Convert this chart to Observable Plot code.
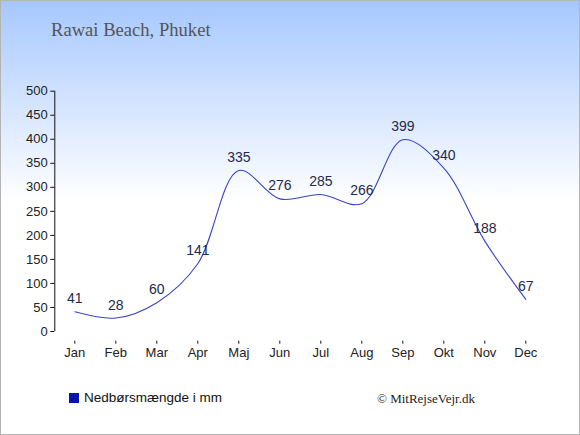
<!DOCTYPE html>
<html>
<head>
<meta charset="utf-8">
<script src="https://cdn.jsdelivr.net/npm/d3@7"></script>
<script src="https://cdn.jsdelivr.net/npm/@observablehq/plot@0.6"></script>
<style>
  html, body { margin: 0; padding: 0; }
  #wrap {
    position: relative; width: 580px; height: 435px; box-sizing: border-box;
    border: 1px solid #b4b4b4;
    background: linear-gradient(to bottom, #a6c8ff 0px, #ffffff 200px, #ffffff 435px);
    overflow: hidden;
  }
  #chart { position: absolute; left: -1px; top: -1px; width: 580px; height: 435px; }
  #title {
    position: absolute; left: 50px; top: 18px;
    font-family: "Liberation Serif", serif; font-size: 18.6px; color: #555555;
  }
  #legend {
    position: absolute; left: 68px; top: 389px;
    font-family: "Liberation Sans", Arial, sans-serif; font-size: 13.5px; color: #111;
    display: flex; align-items: center;
  }
  #legend .sw { width: 10px; height: 10px; background: #0a14a8; margin-right: 5px; }
  #credit {
    position: absolute; left: 376px; top: 390px;
    font-family: "Liberation Serif", serif; font-size: 13px; color: #222;
  }
</style>
</head>
<body>
<div id="wrap">
  <div id="title">Rawai Beach, Phuket</div>
  <div id="chart"></div>
  <div id="legend"><div class="sw"></div><span>Nedbørsmængde i mm</span></div>
  <div id="credit">© MitRejseVejr.dk</div>
</div>
<script>
const months = ["Jan","Feb","Mar","Apr","Maj","Jun","Jul","Aug","Sep","Okt","Nov","Dec"];
const rainfall = [41, 28, 60, 141, 335, 276, 285, 266, 399, 340, 188, 67];
const yTicks = [0, 50, 100, 150, 200, 250, 300, 350, 400, 450, 500];

const data = months.map((m, i) => ({month: m, value: rainfall[i]}));

const font = "Liberation Sans, Arial, sans-serif";

const plot = Plot.plot({
  width: 580,
  height: 435,
  marginTop: 90.7,
  marginBottom: 94.3,
  marginLeft: 54.3,
  marginRight: 54.7,
  style: {background: "transparent", fontFamily: font, fontSize: "13px", color: "#222"},
  x: {type: "point", domain: months, padding: 0, round: false, insetLeft: 20},
  y: {domain: [0, 500], insetBottom: 9.7},
  marks: [
    Plot.ruleX(["Jan"], {y1: 0, y2: 500, dx: -20, stroke: "#111"}),
    Plot.ruleY([0], {x1: "Jan", x2: "Dec", dy: 9.7, stroke: "#111"}),
    Plot.axisY({ticks: yTicks, tickSize: 4, tickPadding: 3, fontSize: 13, label: null, stroke: "#111", fill: "#222"}),
    Plot.axisX({tickSize: 3, tickPadding: 4, fontSize: 13, label: null, stroke: "#111", fill: "#222"}),
    Plot.line(data, {x: "month", y: "value", curve: "catmull-rom", stroke: "#3a44c8", strokeWidth: 1.1}),
    Plot.text(data, {x: "month", y: "value", text: d => String(d.value), dy: -13, fontSize: 14, fill: "#1e2a4a", fontFamily: font})
  ]
});
document.getElementById("chart").appendChild(plot);
</script>
</body>
</html>
